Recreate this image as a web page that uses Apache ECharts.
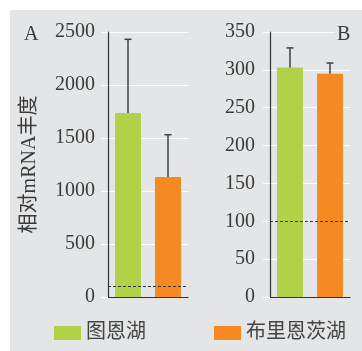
<!DOCTYPE html>
<html>
<head>
<meta charset="utf-8">
<script src="https://cdn.jsdelivr.net/npm/echarts@6/dist/echarts.min.js"></script>
<style>
  html, body { margin: 0; padding: 0; background: #fff; }
  #chart { width: 362px; height: 351px; }
</style>
</head>
<body>
<div id="chart"></div>
<script>
const lakes = ['图恩湖', '布里恩茨湖']
// panel A
const meanA = [1736, 1132]
const sdA = [695, 399]
const ticksA = { max: 2500, interval: 500 }
// panel B
const meanB = [303, 295]
const sdB = [26, 14]
const ticksB = { max: 350, interval: 50 }
const baseline = 100

const colors = ['#b3d148', '#f58a22']
const font = '"Liberation Serif", "Noto Sans CJK SC", serif'
const textColor = '#3a3a3a'

function yAxisOf (idx, ticks, margin, name) {
  return {
    type: 'value',
    gridIndex: idx,
    min: 0,
    max: ticks.max,
    interval: ticks.interval,
    name: name,
    nameLocation: 'middle',
    nameGap: 68,
    nameTextStyle: { fontFamily: font, fontSize: 20, color: textColor },
    axisLine: { show: true, lineStyle: { color: '#333', width: 1.2 } },
    axisTick: { show: true, inside: false, length: 7, lineStyle: { color: '#fff', width: 1.2 } },
    axisLabel: { margin: margin, fontFamily: font, fontSize: 20, color: textColor, formatter: v => String(v) },
    splitLine: { show: true, lineStyle: { color: '#fff', width: 1.2 } }
  }
}

function xAxisOf (idx) {
  return {
    type: 'category',
    gridIndex: idx,
    data: lakes,
    axisLine: { show: true, lineStyle: { color: '#333', width: 1.2 } },
    axisTick: { show: false },
    axisLabel: { show: false }
  }
}

function barsOf (idx, means) {
  return lakes.map((lake, i) => ({
    type: 'bar',
    name: lake,
    xAxisIndex: idx,
    yAxisIndex: idx,
    barWidth: 26,
    barGap: '-100%',
    itemStyle: { color: colors[i] },
    data: means.map((v, j) => (j === i ? v : '-')),
    markLine: i === 0
      ? {
          silent: true,
          symbol: 'none',
          label: { show: false },
          lineStyle: { color: '#333', type: [3, 2], width: 1.2 },
          data: [{ yAxis: baseline }]
        }
      : undefined
  }))
}

function renderErr (params, api) {
  const top = api.coord([api.value(0), api.value(2)])
  const base = api.coord([api.value(0), api.value(1)])
  const style = { stroke: '#404040', lineWidth: 1.5 }
  return {
    type: 'group',
    children: [
      { type: 'line', shape: { x1: top[0], y1: base[1], x2: top[0], y2: top[1] }, style },
      { type: 'line', shape: { x1: top[0] - 3.5, y1: top[1], x2: top[0] + 3.5, y2: top[1] }, style }
    ]
  }
}

function errorsOf (idx, means, sds) {
  return {
    type: 'custom',
    xAxisIndex: idx,
    yAxisIndex: idx,
    renderItem: renderErr,
    z: 3,
    data: means.map((m, i) => [i, m, m + sds[i]])
  }
}

const chart = echarts.init(document.getElementById('chart'))
chart.setOption({
  backgroundColor: '#fff',
  animation: false,
  graphic: [{
    type: 'rect',
    left: 10,
    top: 10,
    z: -10,
    silent: true,
    shape: { width: 352, height: 341 },
    style: { fill: '#e4e5e6' }
  }],
  title: [
    { text: 'A', left: 24, top: 25, padding: 0, textStyle: { fontFamily: font, fontSize: 20, fontWeight: 'normal', color: textColor } },
    { text: 'B', left: 335, top: 25, padding: [0, 2], backgroundColor: '#e4e5e6', textStyle: { fontFamily: font, fontSize: 20, fontWeight: 'normal', color: textColor } }
  ],
  legend: [
    { data: [lakes[0]], left: 54, top: 323, itemWidth: 27, itemHeight: 14, itemGap: 7, padding: 0, icon: 'rect', textStyle: { fontFamily: font, fontSize: 20, color: '#444' } },
    { data: [lakes[1]], left: 214, top: 323, itemWidth: 27, itemHeight: 14, itemGap: 7, padding: 0, icon: 'rect', textStyle: { fontFamily: font, fontSize: 20, color: '#444' } }
  ],
  grid: [
    { left: 108, top: 32, width: 80, height: 265 },
    { left: 270, top: 32, width: 80, height: 265 }
  ],
  xAxis: [xAxisOf(0), xAxisOf(1)],
  yAxis: [yAxisOf(0, ticksA, 13, '相对mRNA丰度'), yAxisOf(1, ticksB, 15, '')],
  series: [
    ...barsOf(0, meanA),
    errorsOf(0, meanA, sdA),
    ...barsOf(1, meanB),
    errorsOf(1, meanB, sdB)
  ]
})
</script>
</body>
</html>
